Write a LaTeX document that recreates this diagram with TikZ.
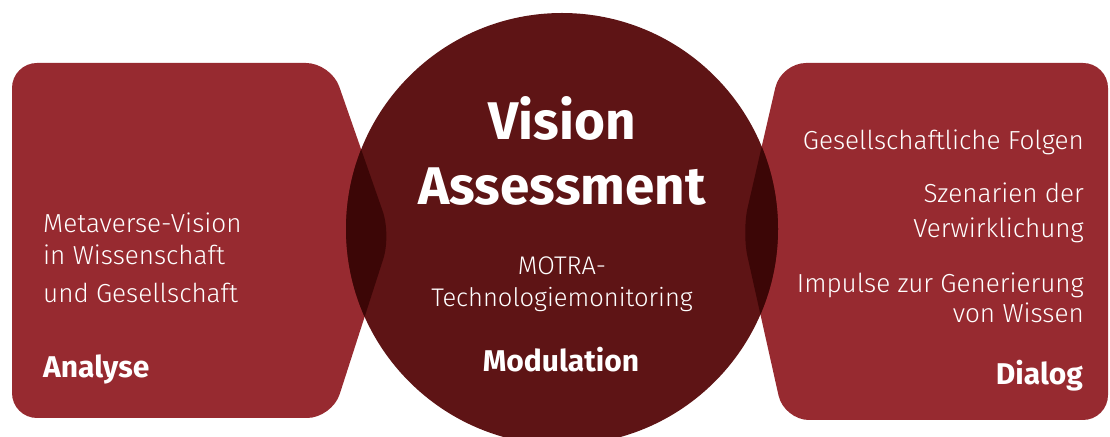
\documentclass[tikz,border=0pt]{standalone}
\usepackage{fontspec}
\setmainfont{Fira Sans}
\newfontfamily\thinfont{Fira Sans Light}
\usepackage{tikz}
\definecolor{boxred}{HTML}{972A30}
\definecolor{hubred}{HTML}{5E1415}
\definecolor{lensred}{HTML}{3C0606}
\definecolor{txt}{HTML}{FFFFFF}
\tikzset{
  sidebox/.style={fill=boxred},
  hub/.style={fill=hubred},
  overlap/.style={fill=lensred},
  lab/.style={text=txt, inner sep=0pt, font=\thinfont\fontsize{26.1}{30}\selectfont},
  midlab/.style={text=txt, inner sep=0pt, font=\thinfont\fontsize{25.5}{31}\selectfont},
  head/.style={text=txt, inner sep=0pt, font=\fontsize{30}{36}\selectfont\bfseries},
  title/.style={text=txt, inner sep=0pt, font=\fontsize{53}{60}\selectfont\bfseries},
}
\newcommand\leftshape{(12,200) -- (12,373) -- (331,373) -- (391,201) -- (332,18) -- (12,18) -- cycle}
\newcommand\rightshape{(1108,200) -- (1108,16) -- (784,16) -- (742,204) -- (781,373) -- (1108,373) -- cycle}

\begin{document}
\begin{tikzpicture}[x=1pt,y=1pt]
  \useasboundingbox (0,0) rectangle (1110,436);
  \coordinate (hubC) at (562,207);

  \fill[sidebox, rounded corners=25pt] \leftshape;
  \fill[sidebox, rounded corners=25pt] \rightshape;
  \fill[hub] (hubC) circle (216);
  \begin{scope}
    \clip (hubC) circle (216);
    \fill[overlap, rounded corners=25pt] \leftshape;
    \fill[overlap, rounded corners=25pt] \rightshape;
  \end{scope}

  % centre
  \node[title, anchor=base] (vis) at (562,296) {Vision};
  \node[title, anchor=base] (ass) at (562,231) {Assessment};
  \node[midlab, anchor=base] (motra) at (562,161) {MOTRA-};
  \node[midlab, anchor=base] (tech) at (562,129) {Technologiemonitoring};
  \node[head, anchor=base] (modu) at (561,64) {Modulation};

  % left
  \node[lab, anchor=base west] (meta) at (43,203) {Metaverse-Vision};
  \node[lab, anchor=base west] (wiss) at (43,171) {in Wissenschaft};
  \node[lab, anchor=base west] (ges) at (43,133) {und Gesellschaft};
  \node[head, anchor=base west] (ana) at (43,58) {Analyse};

  % right
  \node[lab, anchor=base east] (folg) at (1084,286) {Gesellschaftliche Folgen};
  \node[lab, anchor=base east] (szen) at (1084,233) {Szenarien der};
  \node[lab, anchor=base east] (verw) at (1084,198) {Verwirklichung};
  \node[lab, anchor=base east] (imp) at (1084,143) {Impulse zur Generierung};
  \node[lab, anchor=base east] (vonw) at (1084,113) {von Wissen};
  \node[head, anchor=base east] (dia) at (1083,51) {Dialog};
\end{tikzpicture}
\end{document}
